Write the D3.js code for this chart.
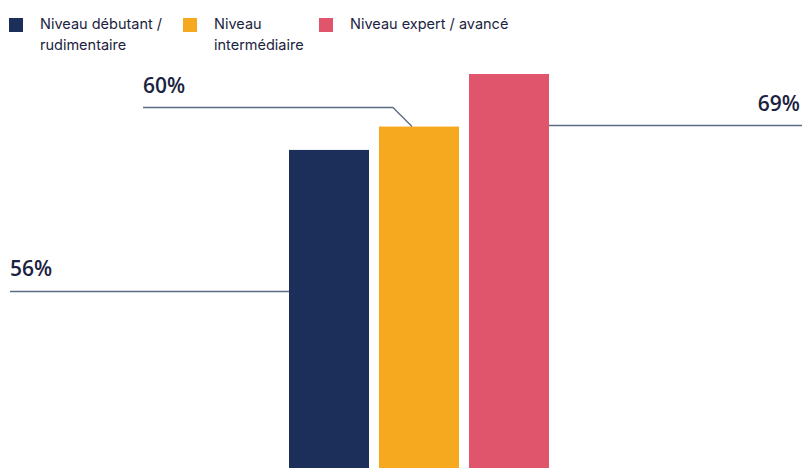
<!DOCTYPE html>
<html>
<head>
<meta charset="utf-8">
<script src="https://cdn.jsdelivr.net/npm/d3@7"></script>
<style>
  body { margin: 0; background: #fff; }
  svg { display: block; }
</style>
</head>
<body>
<script>
const width = 802;
const height = 468;

// data
const levels = ["Niveau débutant / rudimentaire", "Niveau intermédiaire", "Niveau expert / avancé"];
const legendLines = [["Niveau débutant /", "rudimentaire"], ["Niveau", "intermédiaire"], ["Niveau expert / avancé"]];
const values = [56, 60, 69];
const valueLabels = ["56%", "60%", "69%"];
const colors = ["#1c2e5a", "#f6a91f", "#e0546c"];

const textColor = "#1b2340";
const leaderColor = "#5b6b86";

var svg = d3.select("body")
    .append("svg")
    .attr("width", width)
    .attr("height", height);

// bars
var x = d3.scaleBand()
    .domain(levels)
    .range([289, 549])
    .paddingInner(1 / 9)
    .paddingOuter(0);

var y = d3.scaleLinear()
    .domain([0, 69])
    .range([477, 74]);

svg.append("g")
    .selectAll("rect")
    .data(levels)
    .join("rect")
    .attr("x", d => x(d))
    .attr("y", (d, i) => y(values[i]))
    .attr("width", x.bandwidth())
    .attr("height", (d, i) => y(0) - y(values[i]))
    .attr("fill", (d, i) => colors[i]);

// leader lines + value labels (layout for each annotation)
const annot = [
    { lineY: 291.5, labelX: 10, labelY: 276, anchor: "start", x0: 10 },
    { lineY: 107.5, labelX: 143, labelY: 93, anchor: "start", x0: 143 },
    { lineY: 125.5, labelX: 800, labelY: 111, anchor: "end", x0: 802 }
];

levels.forEach((d, i) => {
    let a = annot[i];
    let pts;
    if (i === 0) {
        pts = [[a.x0, a.lineY], [x(d), a.lineY]];
    } else if (i === 1) {
        let ex = x(d) + 33;
        let ey = y(values[i]);
        pts = [[a.x0, a.lineY], [ex - (ey - a.lineY), a.lineY], [ex, ey]];
    } else {
        pts = [[x(d) + x.bandwidth(), a.lineY], [a.x0, a.lineY]];
    }
    svg.append("path")
        .attr("d", d3.line()(pts))
        .attr("fill", "none")
        .attr("stroke", leaderColor)
        .attr("stroke-width", 1.3);

    svg.append("text")
        .attr("x", a.labelX)
        .attr("y", a.labelY)
        .attr("text-anchor", a.anchor)
        .attr("font-family", "'Open Sans', sans-serif")
        .attr("font-size", 21)
        .attr("font-weight", 600)
        .attr("fill", textColor)
        .text(valueLabels[i]);
});

// legend
const legendX = [9, 183, 319];
let legend = svg.append("g");
legendLines.forEach((lines, i) => {
    legend.append("rect")
        .attr("x", legendX[i])
        .attr("y", 18)
        .attr("width", 14)
        .attr("height", 14)
        .attr("fill", colors[i]);
    let t = legend.append("text")
        .attr("font-family", "Inter, 'Open Sans', sans-serif")
        .attr("font-size", 14.5)
        .attr("fill", textColor);
    lines.forEach((l, j) => {
        t.append("tspan")
            .attr("x", legendX[i] + 31)
            .attr("y", 29 + j * 21)
            .text(l);
    });
});
</script>
</body>
</html>
